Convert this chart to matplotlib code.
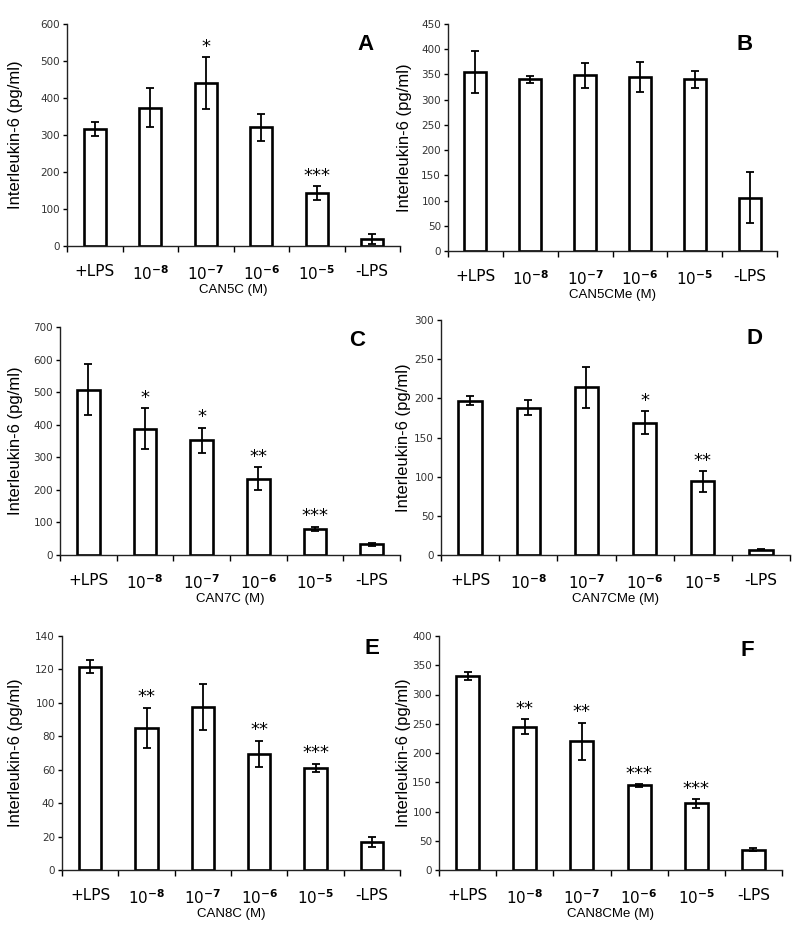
import numpy as np
import matplotlib
matplotlib.use("Agg")
import matplotlib.pyplot as plt

# categories shared by every panel
categories = ["+LPS", r"10$^{\mathbf{-8}}$", r"10$^{\mathbf{-7}}$", r"10$^{\mathbf{-6}}$", r"10$^{\mathbf{-5}}$", "-LPS"]

# panel A: CAN5C
a_mean = [317, 374, 440, 321, 143, 19]
a_err = [19, 53, 71, 36, 19, 14]
a_sig = ["", "", "*", "", "***", ""]
# panel B: CAN5CMe
b_mean = [355, 340, 348, 345, 340, 106]
b_err = [41, 6, 24, 30, 17, 50]
b_sig = ["", "", "", "", "", ""]
# panel C: CAN7C
c_mean = [508, 387, 352, 234, 80, 33]
c_err = [78, 63, 39, 35, 7, 4]
c_sig = ["", "*", "*", "**", "***", ""]
# panel D: CAN7CMe
d_mean = [197, 188, 214, 169, 94, 7]
d_err = [5.5, 9.5, 26, 14.5, 13, 1]
d_sig = ["", "", "", "*", "**", ""]
# panel E: CAN8C
e_mean = [121.7, 85, 97.5, 69.4, 61.2, 16.8]
e_err = [3.7, 12, 14, 8, 2.5, 3]
e_sig = ["", "**", "", "**", "***", ""]
# panel F: CAN8CMe
f_mean = [332, 245, 220, 144.5, 114, 35]
f_err = [6.8, 13, 32, 2, 7.5, 3]
f_sig = ["", "**", "**", "***", "***", ""]

# letter, x label, data, y max, y step, axes box (px), letter pos (px), y label right edge (px)
panels = [
    ("A", "CAN5C (M)", a_mean, a_err, a_sig, 600, 100, (67, 400, 24, 246), (365, 45), 23),
    ("B", "CAN5CMe (M)", b_mean, b_err, b_sig, 450, 50, (448, 777, 24, 251), (745, 45), 412),
    ("C", "CAN7C (M)", c_mean, c_err, c_sig, 700, 100, (60, 400, 327, 555), (357, 340), 23),
    ("D", "CAN7CMe (M)", d_mean, d_err, d_sig, 300, 50, (441, 790, 320, 555), (755, 338), 411),
    ("E", "CAN8C (M)", e_mean, e_err, e_sig, 140, 20, (62, 400, 636, 870), (372, 648), 23),
    ("F", "CAN8CMe (M)", f_mean, f_err, f_sig, 400, 50, (439, 782, 636, 870), (747, 650), 411),
]

W, H = 800, 947
fig = plt.figure(figsize=(W / 100, H / 100), dpi=100)

for letter, xlab, mean, err, sig, ymax, ystep, (l, r, t, b), (lx, ly), ylab_x in panels:
    ax = fig.add_axes([l / W, 1 - b / H, (r - l) / W, (b - t) / H])
    x = np.arange(len(categories))
    ax.bar(x, mean, width=0.4, color="white", edgecolor="black", linewidth=1.9, zorder=2)
    ax.errorbar(x, mean, yerr=err, fmt="none", ecolor="black", elinewidth=1.3,
                capsize=3, capthick=1.3, zorder=3)
    for xi, m, e, s in zip(x, mean, err, sig):
        if s:
            ax.annotate(s, (xi, m + e), xytext=(0, 1), textcoords="offset points",
                        ha="center", va="bottom", fontsize=13, family="DejaVu Sans")
    ax.set_xlim(-0.5, len(categories) - 0.5)
    ax.set_ylim(0, ymax)
    ax.set_yticks(np.arange(0, ymax + 1, ystep))
    ax.set_xticks(x)
    ax.set_xticklabels(categories, fontsize=11, family="DejaVu Sans")
    ax.set_xticks(np.arange(-0.5, len(categories)), minor=True)
    ax.tick_params(axis="x", which="major", length=0, pad=13)
    ax.tick_params(axis="x", which="minor", length=4, width=1, direction="out")
    ax.tick_params(axis="y", length=3, width=1, labelsize=7.5, labelcolor="#333333", pad=2)
    for lab in ax.get_yticklabels():
        lab.set_family("DejaVu Sans")
    for side in ("top", "right"):
        ax.spines[side].set_visible(False)
    for side in ("left", "bottom"):
        ax.spines[side].set_linewidth(1.0)
        ax.spines[side].set_color("#222222")
    ax.set_xlabel(xlab, fontsize=9.5, family="Liberation Sans", labelpad=1)
    ax.set_ylabel("Interleukin-6 (pg/ml)", fontsize=12, family="Liberation Sans")
    ax.yaxis.set_label_coords((ylab_x - l) / (r - l), 0.5)
    fig.text(lx / W, 1 - ly / H, letter, fontsize=16, fontweight="bold",
             family="Liberation Sans", ha="center", va="center")

fig.savefig("out.png", dpi=100)
